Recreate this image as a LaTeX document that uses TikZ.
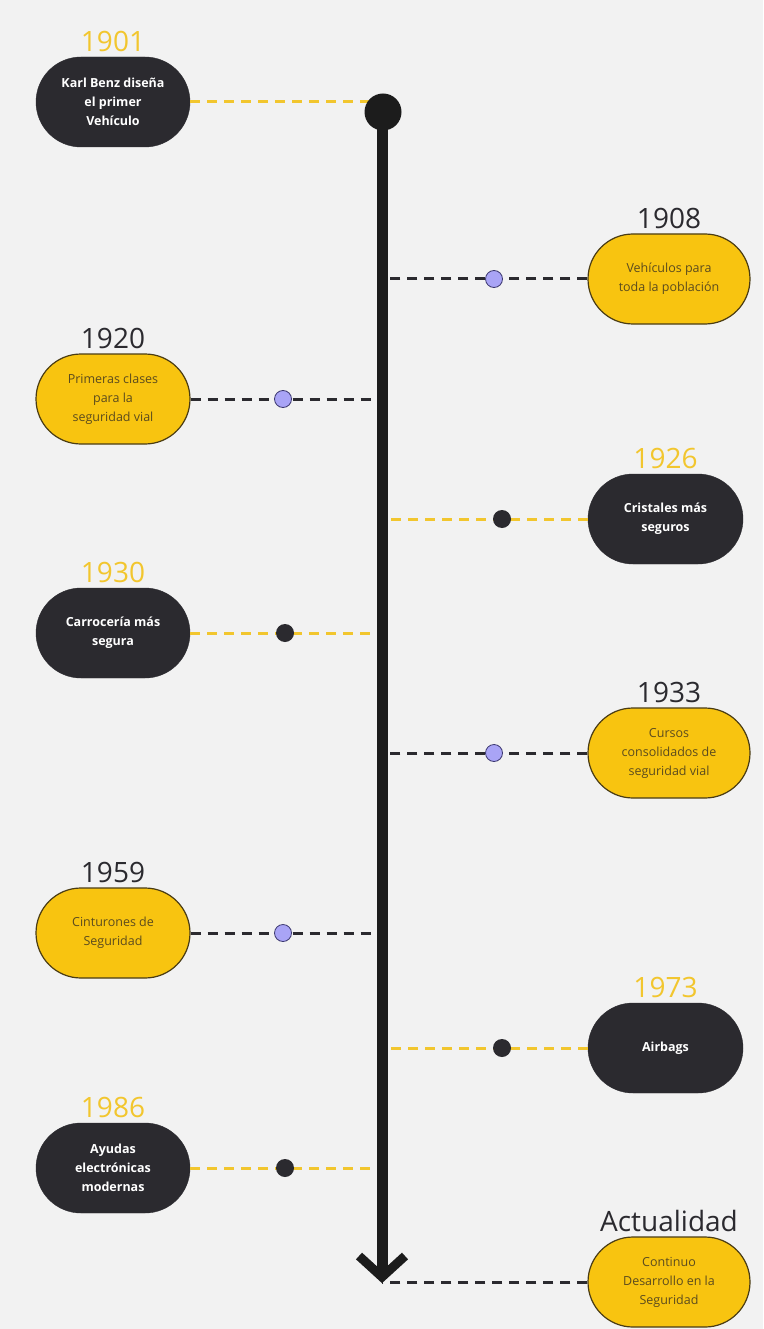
\documentclass[tikz,border=0pt]{standalone}
\usepackage{fontspec}
\setmainfont{Open Sans}
\usetikzlibrary{shapes.misc}

\definecolor{bg}{HTML}{F2F2F2}
\definecolor{ink}{HTML}{2B2A2F}
\definecolor{axisink}{HTML}{1C1C1C}
\definecolor{gold}{HTML}{F8C410}
\definecolor{goldline}{HTML}{F2C62E}
\definecolor{goldedge}{HTML}{4A3C14}
\definecolor{goldtext}{HTML}{5B4B1E}
\definecolor{lav}{HTML}{A9A4F6}
\definecolor{lavedge}{HTML}{3C3870}

\tikzset{
  darkpill/.style={rounded rectangle, fill=ink, draw=ink, minimum width=154pt,
    minimum height=90pt, text=white, inner sep=0pt, align=center,
    font=\fontsize{12.5}{19}\selectfont\bfseries},
  goldpill/.style={rounded rectangle, fill=gold, draw=goldedge, line width=1.2pt,
    minimum width=162pt, minimum height=90pt, text=goldtext, inner sep=0pt,
    align=center, font=\fontsize{12.5}{19}\selectfont},
  yearlbl/.style={font=\fontsize{28}{28}\selectfont, inner sep=0pt, anchor=base},
  golddash/.style={draw=goldline, line width=3pt, dash pattern=on 10pt off 7pt},
  inkdash/.style={draw=ink, line width=3pt, dash pattern=on 10pt off 7pt},
  lavdot/.style={circle, fill=lav, draw=lavedge, line width=0.8pt,
    minimum size=17pt, inner sep=0pt},
  inkdot/.style={circle, fill=ink, minimum size=18pt, inner sep=0pt},
}

\begin{document}
\begin{tikzpicture}[x=1pt, y=-1pt]
  % canvas
  \fill[bg] (0,0) rectangle (763,1329);
  \useasboundingbox (0,0) rectangle (763,1329);

  % axis anchor points
  \coordinate (hubc) at (383,112);
  \coordinate (tip) at (382,1282);

  % events on the left
  \node[darkpill] (p1901) at (113,102) {Karl Benz diseña\\el primer\\Vehículo};
  \node[goldpill, minimum width=154pt] (p1920) at (113,399) {Primeras clases\\para la\\seguridad vial};
  \node[darkpill] (p1930) at (113,633) {Carrocería más\\segura};
  \node[goldpill, minimum width=154pt] (p1959) at (113,933) {Cinturones de\\Seguridad};
  \node[darkpill] (p1986) at (113,1168) {Ayudas\\electrónicas\\modernas};

  % events on the right
  \node[goldpill] (p1908) at (669,279) {Vehículos para\\toda la población};
  \node[darkpill, minimum width=155pt] (p1926) at (665.5,519) {Cristales más\\seguros};
  \node[goldpill] (p1933) at (669,753) {Cursos\\consolidados de\\seguridad vial};
  \node[darkpill, minimum width=155pt] (p1973) at (665.5,1048) {Airbags};
  \node[goldpill] (pnow) at (669,1282) {Continuo\\Desarrollo en la\\Seguridad};

  % year labels
  \node[yearlbl, text=goldline] (y1901) at ([yshift=5pt]p1901.north) {1901};
  \node[yearlbl, text=ink] (y1908) at ([yshift=5pt]p1908.north) {1908};
  \node[yearlbl, text=ink] (y1920) at ([yshift=5pt]p1920.north) {1920};
  \node[yearlbl, text=goldline] (y1926) at ([yshift=5pt]p1926.north) {1926};
  \node[yearlbl, text=goldline] (y1930) at ([yshift=5pt]p1930.north) {1930};
  \node[yearlbl, text=ink] (y1933) at ([yshift=5pt]p1933.north) {1933};
  \node[yearlbl, text=ink] (y1959) at ([yshift=5pt]p1959.north) {1959};
  \node[yearlbl, text=goldline] (y1973) at ([yshift=5pt]p1973.north) {1973};
  \node[yearlbl, text=goldline] (y1986) at ([yshift=5pt]p1986.north) {1986};
  \node[yearlbl, text=ink] (ynow) at ([yshift=5pt]pnow.north) {Actualidad};

  % dashed connectors to the axis
  \draw[golddash] (p1901.east) -- (p1901.east -| hubc);
  \draw[inkdash]  (p1908.west) -- (p1908.west -| hubc);
  \draw[inkdash]  (p1920.east) -- (p1920.east -| hubc);
  \draw[golddash] (p1926.west) -- (p1926.west -| hubc);
  \draw[golddash] (p1930.east) -- (p1930.east -| hubc);
  \draw[inkdash]  (p1933.west) -- (p1933.west -| hubc);
  \draw[inkdash]  (p1959.east) -- (p1959.east -| hubc);
  \draw[golddash] (p1973.west) -- (p1973.west -| hubc);
  \draw[golddash] (p1986.east) -- (p1986.east -| hubc);
  \draw[inkdash]  (pnow.west) -- (tip);

  % time axis with start knob and arrow head
  \fill[axisink] (377,112) rectangle (388,1274);
  \fill[axisink] (hubc) circle[radius=18.5pt];
  \draw[axisink, line width=9pt, miter limit=10] (359,1256) -- (382,1277) -- (405,1256);

  % markers on the connectors
  \node[lavdot] (d1908) at (494,279) {};
  \node[lavdot] (d1920) at (283,399) {};
  \node[inkdot] (d1926) at (502,519) {};
  \node[inkdot] (d1930) at (285,633) {};
  \node[lavdot] (d1933) at (494,753) {};
  \node[lavdot] (d1959) at (283,933) {};
  \node[inkdot] (d1973) at (502,1048) {};
  \node[inkdot] (d1986) at (285,1168) {};
\end{tikzpicture}
\end{document}
